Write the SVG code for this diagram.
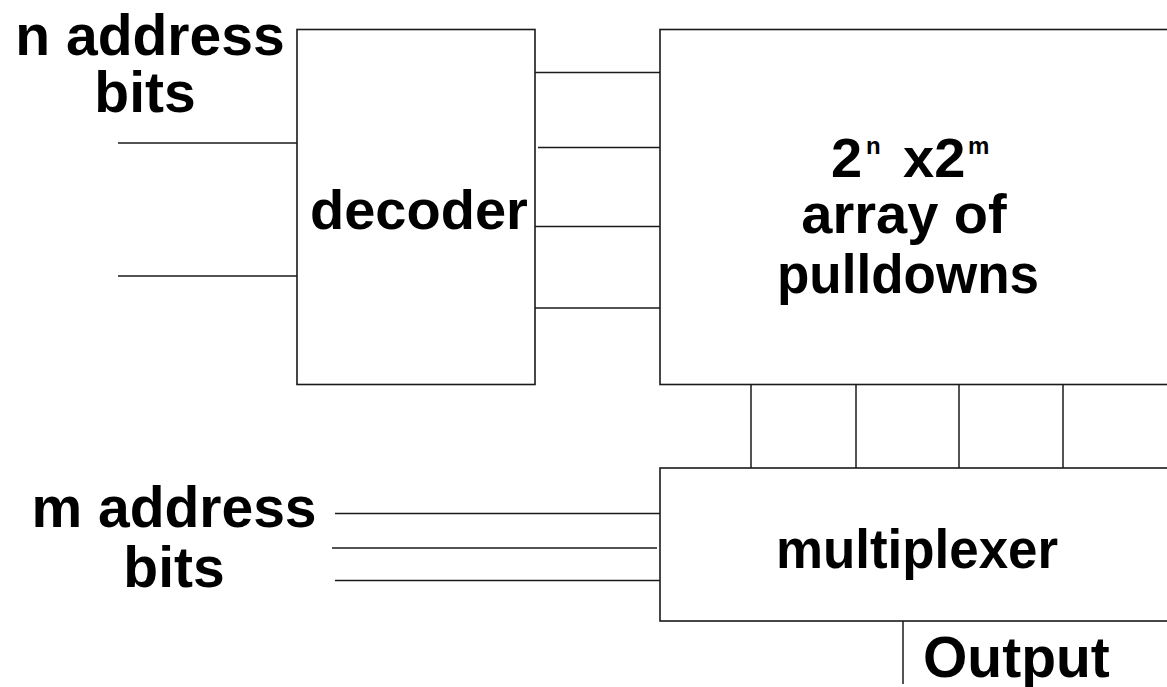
<svg xmlns="http://www.w3.org/2000/svg" width="1167" height="687" viewBox="0 0 1167 687">
<style>
.box{fill:#fff;stroke:#1a1a1a;stroke-width:1.6}
.ln{stroke:#1a1a1a;stroke-width:1.5;fill:none}
.t{font-family:"Liberation Sans",Arial,sans-serif;font-weight:bold;fill:#000}
.lbl{font-size:57px}
.in{font-size:56px}
.sup{font-size:24px}
</style>
<rect width="1167" height="687" fill="#fff"/>
<g id="connectors">
<line class="ln" x1="118" y1="143" x2="297" y2="143"/>
<line class="ln" x1="118" y1="276" x2="297" y2="276"/>
<line class="ln" x1="535" y1="72.5" x2="660" y2="72.5"/>
<line class="ln" x1="538" y1="147.5" x2="660" y2="147.5"/>
<line class="ln" x1="535" y1="226.5" x2="660" y2="226.5"/>
<line class="ln" x1="535" y1="308" x2="660" y2="308"/>
<line class="ln" x1="751" y1="385" x2="751" y2="468"/>
<line class="ln" x1="856" y1="385" x2="856" y2="468"/>
<line class="ln" x1="959" y1="385" x2="959" y2="470"/>
<line class="ln" x1="1063" y1="385" x2="1063" y2="470"/>
<line class="ln" x1="335" y1="513.5" x2="660" y2="513.5"/>
<line class="ln" x1="332" y1="548" x2="657" y2="548"/>
<line class="ln" x1="335" y1="580.5" x2="660" y2="580.5"/>
<line class="ln" x1="903" y1="621" x2="903" y2="684"/>
</g>
<g id="n-address-label">
<text class="t lbl" x="150" y="55" text-anchor="middle">n address</text>
<text class="t lbl" x="145" y="111.5" text-anchor="middle">bits</text>
</g>
<g id="decoder">
<rect class="box" x="297" y="29.5" width="238" height="355"/>
<text class="t in" x="310" y="229">decoder</text>
</g>
<g id="array">
<rect class="box" x="660" y="29.5" width="530" height="355"/>
<text class="t in" x="831" y="177">2</text>
<text class="t sup" x="866" y="154">n</text>
<text class="t in" x="903" y="177">x2</text>
<text class="t sup" x="968" y="154">m</text>
<text class="t in" x="904" y="233" text-anchor="middle">array of</text>
<text class="t in" x="777" y="293" textLength="262" lengthAdjust="spacingAndGlyphs">pulldowns</text>
</g>
<g id="multiplexer">
<rect class="box" x="660" y="468" width="530" height="153"/>
<text class="t in" x="776" y="568" textLength="282" lengthAdjust="spacingAndGlyphs">multiplexer</text>
</g>
<g id="m-address-label">
<text class="t lbl" x="174" y="526.5" text-anchor="middle">m address</text>
<text class="t lbl" x="174" y="586.5" text-anchor="middle">bits</text>
</g>
<g id="output">
<text class="t lbl" x="923" y="677">Output</text>
</g>
</svg>
